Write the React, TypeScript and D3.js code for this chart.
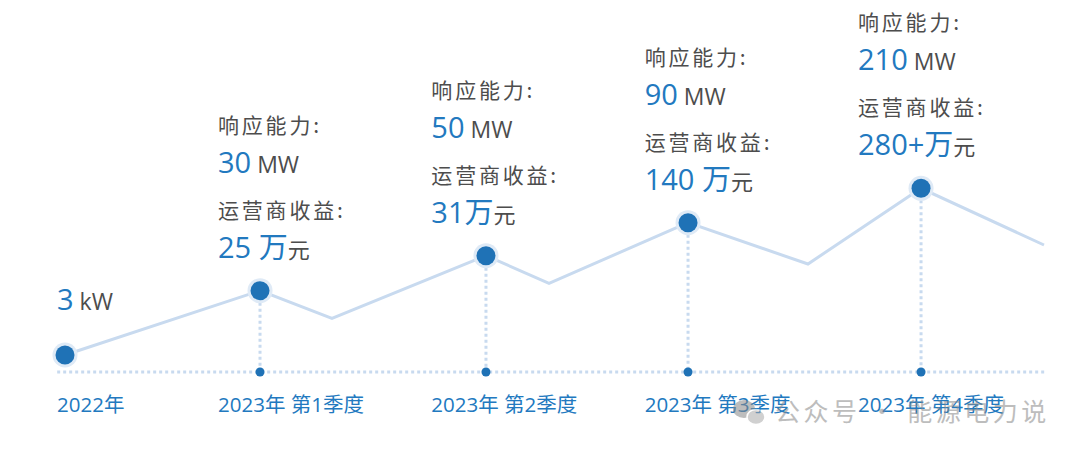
import React from "react";
import * as d3 from "d3";

// ---- data ----
const quarters = ["2023年 第1季度", "2023年 第2季度", "2023年 第3季度", "2023年 第4季度"];
const firstLabel = "2022年";
// decorative trend line (position along timeline, relative height)
const lineX = [0, 19.92, 27.27, 43.0, 49.44, 63.64, 75.89, 87.44, 100];
const lineY = [8.5, 40.65, 26.85, 58.15, 44.35, 74.65, 54, 91.85, 63.5];
const milestoneIdx = [0, 1, 3, 5, 7]; // indices in line that are milestones
const capacityVal = ["3", "30", "50", "90", "210"];
const capacityUnit = ["kW", "MW", "MW", "MW", "MW"];
const revenueVal = ["25 万", "31万", "140 万", "280+万"];
const revenueUnit = ["元", "元", "元", "元"];
const capLabel = "响应能力:";
const revLabel = "运营商收益:";
const watermark = "公众号 · 能源电力说";

const W = 1080;
const H = 453;
const BLUE = "#1f72b6";
const TEXT_BLUE = "#2279bf";
const GRAY = "#4d4d4d";
const LIGHT = "#c8daef";
const HALO = "#dfeaf6";
const NUM_FONT = "'Open Sans', 'Noto Sans CJK SC', sans-serif";
const CJK_FONT = "'Noto Sans CJK SC', 'Open Sans', sans-serif";

export default function App() {
  const x = d3.scaleLinear().domain([0, 100]).range([65, 1044]);
  const y = d3.scaleLinear().domain([0, 100]).range([372, 172]);
  const colX = d3.scalePoint<string>().domain(quarters).range([218, 858]);
  const axisY = y(0);
  const line = d3
    .line<number>()
    .x((d, i) => x(lineX[i]))
    .y((d) => y(d));

  const pts = milestoneIdx.map((i) => ({ px: x(lineX[i]), py: y(lineY[i]) }));

  return (
    <svg width={W} height={H} style={{ position: "absolute", left: 0, top: 0 }}>
      <rect width={W} height={H} fill="#fff" />
      {/* axis dotted line */}
      <line
        x1={x(-0.8)}
        x2={x(100.2)}
        y1={axisY}
        y2={axisY}
        stroke={LIGHT}
        strokeWidth={3}
        strokeDasharray="3,3"
      />
      {/* vertical dotted drops */}
      {pts.slice(1).map((p, i) => (
        <line
          key={"v" + i}
          x1={p.px}
          x2={p.px}
          y1={p.py + 12}
          y2={axisY}
          stroke={LIGHT}
          strokeWidth={3}
          strokeDasharray="3,3"
        />
      ))}
      {/* trend line */}
      <path d={line(lineY) || ""} fill="none" stroke={LIGHT} strokeWidth={3} />
      {/* axis dots */}
      {pts.slice(1).map((p, i) => (
        <circle key={"a" + i} cx={p.px} cy={axisY} r={4.5} fill={BLUE} />
      ))}
      {/* milestone points */}
      {pts.map((p, i) => (
        <g key={"p" + i}>
          <circle cx={p.px} cy={p.py} r={12.5} fill={HALO} />
          <circle cx={p.px} cy={p.py} r={9.5} fill={BLUE} />
        </g>
      ))}
      {/* x labels */}
      <text x={x(0) - 8} y={axisY + 40} fill={TEXT_BLUE} fontSize={20.5} fontFamily={NUM_FONT}>
        {firstLabel}
      </text>
      {quarters.map((q) => (
        <text key={q} x={colX(q)} y={axisY + 40} fill={TEXT_BLUE} fontSize={20.5} fontFamily={NUM_FONT}>
          {q}
        </text>
      ))}
      {/* first annotation */}
      <text x={x(0) - 8} y={pts[0].py - 45} fontFamily={NUM_FONT}>
        <tspan fill={TEXT_BLUE} fontSize={29}>{capacityVal[0]}</tspan>
        <tspan fill={GRAY} fontSize={23} dx={6}>{capacityUnit[0]}</tspan>
      </text>
      {/* quarter annotations */}
      {quarters.map((q, i) => {
        const p = pts[i + 1];
        const bx = colX(q)!;
        const base = p.py - 158;
        return (
          <g key={"ann" + i}>
            <text x={bx} y={base} fill={GRAY} fontSize={21} letterSpacing={2.8} fontFamily={CJK_FONT}>
              {capLabel}
            </text>
            <text x={bx} y={base + 40} fontFamily={NUM_FONT}>
              <tspan fill={TEXT_BLUE} fontSize={29}>{capacityVal[i + 1]}</tspan>
              <tspan fill={GRAY} fontSize={23} dx={6}>{capacityUnit[i + 1]}</tspan>
            </text>
            <text x={bx} y={base + 85} fill={GRAY} fontSize={21} letterSpacing={2.8} fontFamily={CJK_FONT}>
              {revLabel}
            </text>
            <text x={bx} y={base + 125} fontFamily={NUM_FONT}>
              <tspan fill={TEXT_BLUE} fontSize={29}>{revenueVal[i]}</tspan>
              <tspan fill={GRAY} fontSize={22} fontFamily={CJK_FONT}>{revenueUnit[i]}</tspan>
            </text>
          </g>
        );
      })}
      {/* watermark */}
      <g opacity={0.55}>
        <ellipse cx={744} cy={409} rx={11} ry={9} fill="#888" />
        <ellipse cx={756} cy={417} rx={9} ry={7.5} fill="#aaa" stroke="#fff" strokeWidth={1.5} />
        <text x={775} y={421} fill="#888" fontSize={25} letterSpacing={3.5} fontFamily={CJK_FONT}>
          {watermark}
        </text>
      </g>
    </svg>
  );
}
